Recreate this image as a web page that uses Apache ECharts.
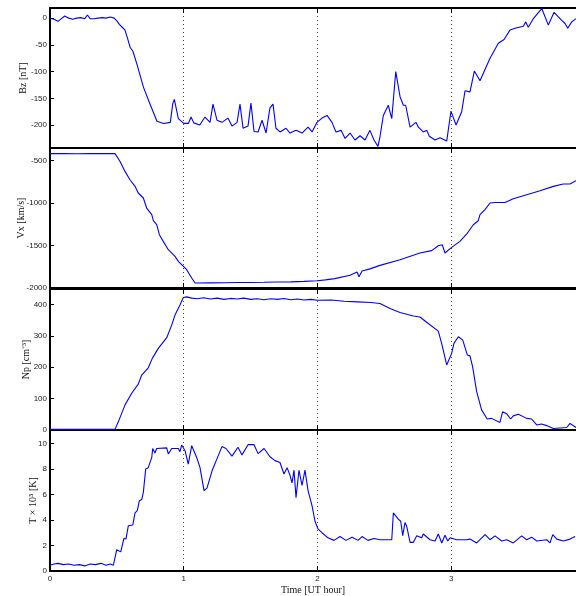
<!DOCTYPE html>
<html>
<head>
<meta charset="utf-8">
<script src="https://cdn.jsdelivr.net/npm/echarts@6/dist/echarts.min.js"></script>
<style>
  html, body { margin: 0; padding: 0; background: #fff; }
  #main { width: 576px; height: 596px; }
</style>
</head>
<body>
<div id="main"></div>
<script>
// Bz [nT]
const bzTime = [0, 0.03, 0.06, 0.09, 0.11, 0.14, 0.17, 0.2, 0.23, 0.26, 0.28, 0.3, 0.33, 0.36, 0.39, 0.42, 0.45, 0.48,
  0.5, 0.52, 0.54, 0.56, 0.58, 0.6, 0.62, 0.65, 0.7, 0.75, 0.8, 0.85, 0.9, 0.918, 0.93, 0.96, 1.0, 1.035, 1.055, 1.075, 1.12,
  1.159, 1.197, 1.219, 1.249, 1.286, 1.331, 1.361, 1.399, 1.421, 1.444, 1.481, 1.503, 1.526, 1.556, 1.586, 1.616, 1.645,
  1.668, 1.69, 1.72, 1.765, 1.795, 1.84, 1.885, 1.93, 1.96, 1.997, 2.034, 2.072, 2.109, 2.139, 2.177, 2.207, 2.244, 2.281,
  2.319, 2.356, 2.393, 2.423, 2.453, 2.468, 2.493, 2.53, 2.556, 2.586, 2.618, 2.643, 2.66, 2.693, 2.737, 2.755, 2.792,
  2.818, 2.837, 2.88, 2.917, 2.967, 2.999, 3.037, 3.079, 3.104, 3.141, 3.174, 3.216, 3.291, 3.353, 3.396, 3.441, 3.478,
  3.54, 3.558, 3.577, 3.615, 3.678, 3.69, 3.727, 3.74, 3.77, 3.827, 3.852, 3.872, 3.902, 3.934];
const bzValues = [0, -2, -6, 0, 4, 0, -2, 0, 1, -1, 6, -1, -1, 0, 1, 0, 2, 0,
  -5, -12, -17, -22, -38, -55, -62, -86, -130, -162, -193, -197, -195, -160, -152, -188, -197, -197, -185, -196, -200,
  -185, -195, -161, -191, -195, -187, -202, -195, -161, -206, -202, -159, -212, -213, -191, -215, -168,
  -161, -206, -213, -206, -215, -210, -215, -204, -213, -195, -187, -182, -195, -213, -210, -225, -215, -228,
  -220, -228, -210, -228, -240, -222, -182, -163, -188, -100, -147, -163, -163, -204, -195, -204, -213,
  -210, -221, -228, -224, -230, -174, -200, -175, -136, -138, -99, -117, -75, -47, -40, -22, -19,
  -15, -7, -17, -1, 18, 17, -13, -15, 11, -4, -10, -19, -7, -1];

// Vx [km/s]
const vxTime = [0, 0.1, 0.2, 0.3, 0.4, 0.486, 0.524, 0.561, 0.598, 0.636, 0.66, 0.698, 0.723, 0.761, 0.773, 0.798, 0.818,
  0.847, 0.885, 0.935, 0.96, 1.022, 1.06, 1.085, 1.1, 1.2, 1.3, 1.4, 1.5, 1.6, 1.7, 1.8, 1.9, 2.0, 2.06, 2.13, 2.244,
  2.296, 2.311, 2.334, 2.393, 2.468, 2.618, 2.767, 2.855, 2.904, 2.934, 2.954, 3.004, 3.066, 3.117, 3.166, 3.203, 3.216,
  3.253, 3.291, 3.328, 3.403, 3.465, 3.565, 3.665, 3.764, 3.839, 3.889, 3.934];
const vxValues = [-420, -418, -421, -419, -420, -420, -512, -629, -727, -805, -883, -942, -1060, -1138, -1209, -1256, -1373,
  -1452, -1550, -1628, -1687, -1785, -1882, -1941, -1942, -1940, -1938, -1935, -1935, -1933, -1930, -1928, -1922, -1915, -1905, -1890, -1850,
  -1812, -1868, -1800, -1775, -1734, -1667, -1589, -1561, -1503, -1491, -1589, -1522, -1452, -1365, -1256, -1209, -1138,
  -1079, -1001, -994, -994, -950, -903, -856, -805, -777, -777, -739];

// Np [cm^-3]
const npTime = [0, 0.2, 0.486, 0.511, 0.561, 0.611, 0.66, 0.686, 0.735, 0.765, 0.81, 0.873, 0.91, 0.935, 0.972, 0.997,
  1.022, 1.06, 1.1, 1.15, 1.2, 1.25, 1.3, 1.35, 1.4, 1.45, 1.5, 1.55, 1.6, 1.65, 1.7, 1.75, 1.8, 1.85, 1.9, 1.95, 2.0,
  2.1, 2.2, 2.3, 2.4, 2.468, 2.543, 2.618, 2.718, 2.767, 2.817, 2.904, 2.929, 2.967, 3.004, 3.021, 3.054, 3.087, 3.121,
  3.141, 3.161, 3.191, 3.228, 3.27, 3.303, 3.365, 3.385, 3.415, 3.445, 3.465, 3.503, 3.565, 3.602, 3.64, 3.677, 3.715,
  3.764, 3.865, 3.889, 3.934];
const npValues = [2, 2, 2, 26, 80, 117, 146, 175, 198, 228, 260, 294, 334, 366, 398, 422,
  424, 420, 418, 421, 417, 420, 416, 419, 417, 420, 416, 418, 415, 418, 416, 419, 415, 417, 414, 416, 413,
  414, 410, 408, 406, 403, 387, 374, 363, 360, 343, 315, 276, 207, 244, 276, 297, 286, 239,
  236, 201, 122, 64, 35, 37, 24, 58, 52, 35, 45, 50, 37, 35, 16, 19, 14,
  5, 8, 21, 8];

// T x 10^5 [K]
const tTime = [0, 0.03, 0.06, 0.1, 0.14, 0.18, 0.22, 0.26, 0.3, 0.34, 0.38, 0.42, 0.45, 0.474, 0.499, 0.529, 0.553, 0.568,
  0.586, 0.619, 0.636, 0.653, 0.668, 0.686, 0.698, 0.716, 0.735, 0.761, 0.768, 0.785, 0.798, 0.873, 0.885, 0.91, 0.96,
  0.972, 0.985, 1.01, 1.034, 1.06, 1.097, 1.122, 1.152, 1.174, 1.212, 1.257, 1.286, 1.316, 1.361, 1.406, 1.436, 1.481,
  1.526, 1.556, 1.601, 1.645, 1.683, 1.72, 1.75, 1.773, 1.795, 1.81, 1.825, 1.84, 1.862, 1.885, 1.907, 1.93, 1.96, 1.982,
  2.004, 2.034, 2.079, 2.124, 2.169, 2.214, 2.259, 2.304, 2.334, 2.378, 2.423, 2.468, 2.556, 2.568, 2.605, 2.623, 2.638,
  2.655, 2.668, 2.693, 2.717, 2.743, 2.78, 2.792, 2.842, 2.88, 2.904, 2.93, 2.954, 2.975, 2.992, 3.042, 3.117, 3.141,
  3.191, 3.254, 3.291, 3.328, 3.378, 3.416, 3.465, 3.528, 3.565, 3.602, 3.64, 3.715, 3.74, 3.76, 3.79, 3.84, 3.889, 3.927];
const tValues = [0.45, 0.55, 0.6, 0.5, 0.55, 0.45, 0.5, 0.4, 0.55, 0.5, 0.6, 0.45, 0.55, 0.45, 1.67, 1.5, 2.55, 2.5,
  3.55, 3.6, 4.55, 4.73, 5.5, 5.6, 6.16, 8.0, 8.1, 8.9, 9.6, 9.25, 9.6, 9.65, 9.17, 9.6, 9.6,
  9.35, 9.87, 9.43, 8.38, 9.82, 8.9, 8.1, 6.3, 6.5, 7.85, 9.0, 9.75, 9.6, 9.0, 9.7, 9.1, 9.9,
  9.9, 9.2, 9.6, 8.95, 8.65, 8.5, 7.6, 8.1, 7.5, 6.9, 7.9, 5.75, 7.9, 6.7, 7.9, 6.3, 5.1, 3.9,
  3.3, 3.0, 2.6, 2.4, 2.7, 2.4, 2.65, 2.4, 2.7, 2.4, 2.55, 2.45, 2.45, 4.55, 4.07, 3.9, 2.77,
  3.8, 3.5, 2.24, 2.24, 2.77, 2.6, 2.9, 2.45, 2.35, 2.9, 2.2, 2.8, 2.35, 2.6, 2.45, 2.45, 2.5,
  2.2, 2.85, 2.45, 2.75, 2.35, 2.45, 2.2, 2.75, 2.45, 2.65, 2.35, 2.45, 2.2, 2.85, 2.5, 2.35, 2.5, 2.7];

const xTicks = [0, 1, 2, 3];

const panels = [
  { name: 'Bz [nT]', time: bzTime, values: bzValues, min: -243, max: 19, ticks: [-200, -150, -100, -50, 0], top: 8, height: 140, gap: 22 },
  { name: 'Vx [km/s]', time: vxTime, values: vxValues, min: -2000, max: -354, ticks: [-2000, -1500, -1000, -500], top: 148, height: 140, gap: 24 },
  { name: 'Np [cm\u207B\u00B3]', time: npTime, values: npValues, min: 0, max: 449, ticks: [0, 100, 200, 300, 400], top: 289, height: 141, gap: 19 },
  { name: 'T \u00D7 10\u2075 [K]', time: tTime, values: tValues, min: 0, max: 11.05, ticks: [0, 2, 4, 6, 8, 10], top: 430, height: 141, gap: 12 }
];

const chart = echarts.init(document.getElementById('main'));

const grid = [];
const xAxis = [];
const yAxis = [];
const series = [];

panels.forEach((p, i) => {
  const last = i === panels.length - 1;
  grid.push({ left: 50, right: 0, top: p.top, height: p.height, containLabel: false, outerBoundsMode: 'none' });
  // bottom x axis
  xAxis.push({
    type: 'value', gridIndex: i, position: 'bottom', min: 0, max: 3.934,
    axisLine: { onZero: false, lineStyle: { color: '#000', width: 2 } },
    axisTick: { inside: true, length: 5, customValues: xTicks, lineStyle: { color: '#000', width: 1 } },
    axisLabel: { show: last, customValues: xTicks, color: '#222', fontSize: 8, fontFamily: 'Liberation Sans', margin: 4 },
    splitLine: { show: false },
    name: last ? 'Time [UT hour]' : '',
    nameLocation: 'middle', nameGap: 14, nameMoveOverlap: false,
    nameTextStyle: { color: '#111', fontSize: 10, fontFamily: 'Liberation Serif' }
  });
  // top x axis (frame + ticks + dotted guides)
  xAxis.push({
    type: 'value', gridIndex: i, position: 'top', min: 0, max: 3.934, interval: 1,
    axisLine: { onZero: false, lineStyle: { color: '#000', width: 2 } },
    axisTick: { inside: true, length: 5, lineStyle: { color: '#000', width: 1 } },
    axisLabel: { show: false },
    splitLine: { show: true, lineStyle: { color: '#444', type: [1, 3], width: 1 } }
  });
  yAxis.push({
    type: 'value', gridIndex: i, min: p.min, max: p.max,
    axisLine: { show: true, onZero: false, lineStyle: { color: '#000', width: 2 } },
    axisTick: { inside: true, length: 4, customValues: p.ticks, lineStyle: { color: '#000' } },
    axisLabel: { customValues: p.ticks, formatter: v => String(v), color: '#222', fontSize: 8, fontFamily: 'Liberation Sans', margin: 3 },
    splitLine: { show: false },
    name: p.name, nameLocation: 'middle', nameGap: p.gap, nameMoveOverlap: false,
    nameTextStyle: { color: '#111', fontSize: 10, fontFamily: 'Liberation Serif' }
  });
  series.push({
    type: 'line',
    xAxisIndex: i * 2, yAxisIndex: i,
    data: p.time.map((t, k) => [t, p.values[k]]),
    showSymbol: false,
    lineStyle: { color: '#0000ff', width: 1.1 },
    clip: true
  });
});

chart.setOption({
  animation: false,
  backgroundColor: '#fff',
  grid: grid,
  xAxis: xAxis,
  yAxis: yAxis,
  series: series
});
</script>
</body>
</html>
